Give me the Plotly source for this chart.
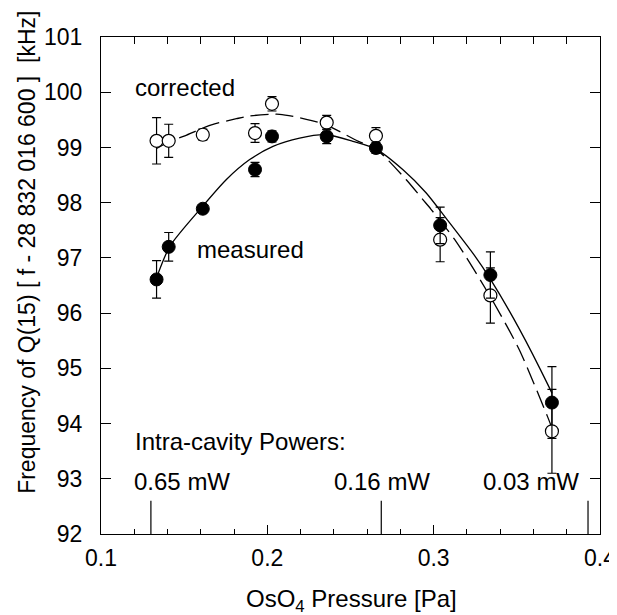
import plotly.graph_objects as go

# ---- data ----
pressure = [0.1334, 0.1407, 0.1612, 0.1926, 0.2028, 0.2357, 0.2653, 0.3039, 0.3341, 0.3711]
measured = [96.61, 97.20, 97.89, 98.60, 99.20, 99.20, 98.99, 97.59, 96.69, 94.38]
measured_err = [0.34, 0.26, 0.05, 0.13, 0.10, 0.13, 0.10, 0.33, 0.42, 0.65]
corrected = [99.12, 99.12, 99.23, 99.26, 99.79, 99.45, 99.21, 97.33, 96.32, 93.86]
corrected_err = [0.42, 0.30, 0.10, 0.17, 0.13, 0.13, 0.15, 0.40, 0.50, 0.76]

fit_measured_x = [0.1334, 0.1414, 0.1604, 0.1754, 0.1894, 0.2034, 0.2194, 0.2354, 0.2514,
                  0.2654, 0.2814, 0.2954, 0.3074, 0.3244, 0.3340, 0.3514, 0.3694, 0.3711]
fit_measured_y = [96.64, 97.21, 97.91, 98.42, 98.78, 99.02, 99.17, 99.23, 99.11,
                  98.97, 98.60, 98.18, 97.72, 97.05, 96.62, 95.72, 94.66, 94.55]

fit_corrected_x = [0.1334, 0.1407, 0.1504, 0.1664, 0.1814, 0.1894, 0.2074, 0.2234, 0.2354,
                   0.2434, 0.2548, 0.2654, 0.2834, 0.2934, 0.2984, 0.3134, 0.3340, 0.3514,
                   0.3684, 0.3711]
fit_corrected_y = [98.98, 99.10, 99.21, 99.41, 99.52, 99.57, 99.60, 99.51, 99.41,
                   99.29, 99.11, 98.97, 98.42, 98.06, 97.88, 97.30, 96.30, 95.34,
                   94.13, 93.92]

power_x = [0.130, 0.2685, 0.3928]
power_labels = ["0.65 mW", "0.16 mW", "0.03 mW"]

x_ticks = [0.1, 0.2, 0.3, 0.4]
y_ticks = [92, 93, 94, 95, 96, 97, 98, 99, 100, 101]

FONT = "Liberation Sans, Arial, Helvetica, sans-serif"
LW = 1.3

fig = go.Figure()

fig.add_trace(go.Scatter(x=fit_corrected_x, y=fit_corrected_y, mode="lines",
                         line=dict(color="black", width=LW, dash="18px,7px", shape="spline", smoothing=0.7),
                         hoverinfo="skip", showlegend=False))
fig.add_trace(go.Scatter(x=fit_measured_x, y=fit_measured_y, mode="lines",
                         line=dict(color="black", width=LW, shape="spline", smoothing=0.7),
                         hoverinfo="skip", showlegend=False))

fig.add_trace(go.Scatter(x=pressure, y=corrected, mode="markers",
                         marker=dict(symbol="circle", size=13, color="white",
                                     line=dict(color="black", width=1.2)),
                         error_y=dict(type="data", array=corrected_err, visible=True,
                                      color="black", thickness=1.2, width=4.5),
                         showlegend=False))
fig.add_trace(go.Scatter(x=pressure, y=measured, mode="markers",
                         marker=dict(symbol="circle", size=13, color="black",
                                     line=dict(color="black", width=1)),
                         error_y=dict(type="data", array=measured_err, visible=True,
                                      color="black", thickness=1.2, width=4.5),
                         showlegend=False))

# helper trace for the top axis ticks
fig.add_trace(go.Scatter(x=[x_ticks[0]], y=[y_ticks[0]], xaxis="x2", mode="markers",
                         marker=dict(opacity=0), hoverinfo="skip", showlegend=False))

# intra-cavity power markers
for px in power_x:
    fig.add_shape(type="line", xref="x", yref="y", x0=px, x1=px, y0=92, y1=92.6,
                  line=dict(color="black", width=1.2))

annots = [
    dict(x=0.1194, y=100.08, text="corrected", xanchor="left"),
    dict(x=0.1564, y=97.15, text="measured", xanchor="left"),
    dict(x=0.1192, y=93.675, text="Intra-cavity Powers:", xanchor="left"),
    dict(x=0.1184, y=92.95, text=power_labels[0], xanchor="left"),
    dict(x=0.2690, y=92.95, text=power_labels[1], xanchor="center"),
    dict(x=0.3884, y=92.95, text=power_labels[2], xanchor="right"),
]
for a in annots:
    fig.add_annotation(xref="x", yref="y", yanchor="middle", showarrow=False,
                       font=dict(family=FONT, size=24, color="black"), **a)

fig.add_annotation(xref="paper", yref="paper", x=-0.148, y=0.566, textangle=-90,
                   text="Frequency of Q(15) [ f - 28 832 016 600 ] \u00a0[kHz]",
                   showarrow=False, xanchor="center", yanchor="middle",
                   font=dict(family=FONT, size=23, color="black"))
fig.add_annotation(xref="paper", yref="paper", x=0.503, y=-0.133,
                   text="OsO<sub>4</sub> Pressure [Pa]",
                   showarrow=False, xanchor="center", yanchor="middle",
                   font=dict(family=FONT, size=24, color="black"))

# the page body adds an 8 px offset, so the figure is 8 px smaller and margins shifted
fig.update_layout(
    width=609, height=607,
    margin=dict(l=93, r=17, t=29, b=81, autoexpand=False),
    paper_bgcolor="white", plot_bgcolor="white",
    font=dict(family=FONT, size=22, color="black"),
    xaxis=dict(range=[0.1, 0.4], tickvals=x_ticks, ticktext=[str(v) for v in x_ticks],
               ticks="inside", ticklen=9, tickwidth=1.3, tickcolor="black",
               minor=dict(dtick=0.02, ticks="inside", ticklen=5, tickwidth=1.2, tickcolor="black"),
               showline=True, linecolor="black", linewidth=LW, mirror=True,
               showgrid=False, zeroline=False, ticklabelstandoff=3, automargin=False,
               tickfont=dict(size=23)),
    xaxis2=dict(range=[0.1, 0.4], overlaying="x", side="top", dtick=0.02, tick0=0.1,
                ticks="inside", ticklen=7, tickwidth=1.2, tickcolor="black", automargin=False,
                showticklabels=False, showline=False, showgrid=False, zeroline=False),
    yaxis=dict(range=[92, 101], tickvals=y_ticks, ticks="inside", ticklen=10, tickwidth=1.3,
               tickcolor="black", showline=True, linecolor="black", linewidth=LW,
               mirror="ticks", showgrid=False, zeroline=False, ticklabelstandoff=13,
               automargin=False, tickfont=dict(size=23)),
)

fig.write_html("out.html")
